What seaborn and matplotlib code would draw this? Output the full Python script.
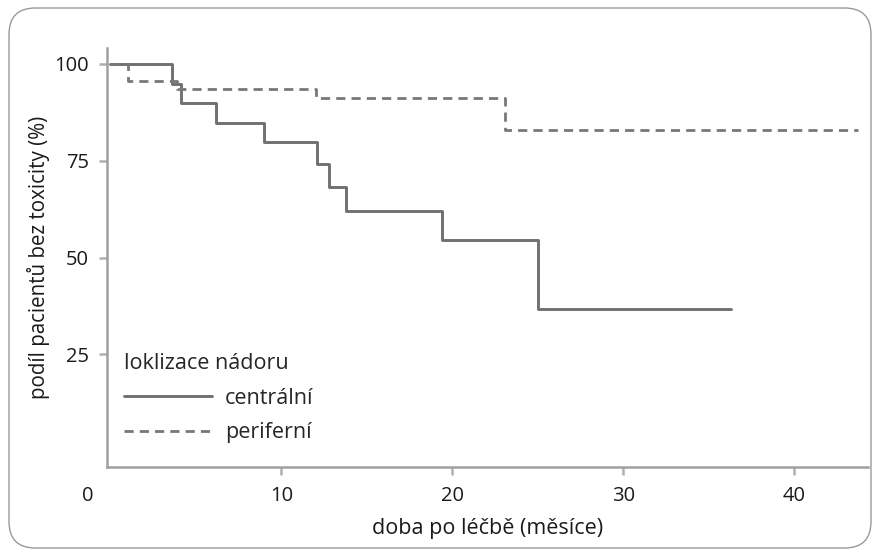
import matplotlib
matplotlib.use("Agg")
import matplotlib.pyplot as plt
import seaborn as sns
import pandas as pd
from matplotlib.patches import FancyBboxPatch
from matplotlib.lines import Line2D
import matplotlib.transforms as mtransforms

# Data (Kaplan-Meier style steps)
central_t = [0, 3.6, 4.1, 6.2, 9.0, 12.1, 12.8, 13.8, 19.4, 25.0, 36.3]
central_s = [100, 94.8, 90.0, 84.8, 79.7, 74.1, 68.3, 62.1, 54.5, 36.6, 36.6]
periph_t = [0, 1.0, 3.9, 12.0, 23.1, 43.7]
periph_s = [100, 95.7, 93.5, 91.1, 82.9, 82.9]
group_names = ["centrální", "periferní"]
x_ticks = [0, 10, 20, 30, 40]
y_ticks = [25, 50, 75, 100]

df = pd.concat([
    pd.DataFrame({"t": central_t, "s": central_s, "g": group_names[0]}),
    pd.DataFrame({"t": periph_t, "s": periph_s, "g": group_names[1]}),
])

sns.set_theme(style="white")
plt.rcParams["font.family"] = ["Open Sans", "DejaVu Sans"]

fig = plt.figure(figsize=(8.8, 5.56), dpi=100)
ax = fig.add_axes([107/880, 1 - 467/556, (868-107)/880, (467-48)/556])

grey_solid = "#707070"
grey_dash = "#787878"
dash_style = (0, (3.3, 2.2))
sns.lineplot(data=df[df.g == group_names[0]], x="t", y="s", ax=ax,
             drawstyle="steps-post", color=grey_solid, lw=2.1,
             estimator=None, sort=False, legend=False)
sns.lineplot(data=df[df.g == group_names[1]], x="t", y="s", ax=ax,
             drawstyle="steps-post", color=grey_dash, lw=2.0,
             estimator=None, sort=False, legend=False)
ax.lines[1].set_linestyle(dash_style)

ax.set_xlim(-0.2, 44.3)
ax.set_ylim(-4.1, 104.1)

for s in ["top", "right"]:
    ax.spines[s].set_visible(False)
for s in ["left", "bottom"]:
    ax.spines[s].set_color("#a0a0a0")
    ax.spines[s].set_linewidth(1.8)

ax.set_xticks(x_ticks)
ax.set_xticklabels([str(v) for v in x_ticks])
ax.set_yticks(y_ticks)
ax.set_yticklabels([str(v) for v in y_ticks])
ax.tick_params(axis="both", which="both", direction="out", length=6, width=1.8,
               color="#b0b0b0", labelsize=14.5, labelcolor="#1a1a1a", bottom=True, left=True)
ax.tick_params(axis="x", pad=8)
ax.tick_params(axis="y", pad=7)
# shift the "0" label left and hide its tick mark
lab0 = ax.get_xticklabels()[0]
lab0.set_transform(lab0.get_transform() + mtransforms.ScaledTranslation(-23/100, 0, fig.dpi_scale_trans))
ax.xaxis.get_major_ticks()[0].tick1line.set_visible(False)

ax.set_xlabel("doba po léčbě (měsíce)", fontsize=15.5, color="#1a1a1a", labelpad=8)
ax.set_ylabel("podíl pacientů bez toxicity (%)", fontsize=14.8, color="#1a1a1a", labelpad=3)

handles = [Line2D([], [], color=grey_solid, lw=2.1),
           Line2D([], [], color=grey_dash, lw=2.0, linestyle=dash_style)]
leg = ax.legend(handles, group_names, title="loklizace nádoru", loc="upper left",
                bbox_to_anchor=(0.022, 0.272), frameon=False, fontsize=15.5,
                title_fontsize=15.5, handlelength=4.1, handletextpad=0.6,
                labelspacing=0.62, borderaxespad=0, borderpad=0)
leg._legend_box.align = "left"
leg._legend_box.sep = 10

# rounded outer border
border = FancyBboxPatch((9/880, 8/556), (871-9)/880, (548-8)/556,
                        boxstyle="round,pad=0,rounding_size=0.03",
                        transform=fig.transFigure, fill=False,
                        edgecolor="#9a9a9a", lw=1.0, mutation_aspect=880/556)
fig.patches.append(border)

fig.savefig("out.png", dpi=100)
